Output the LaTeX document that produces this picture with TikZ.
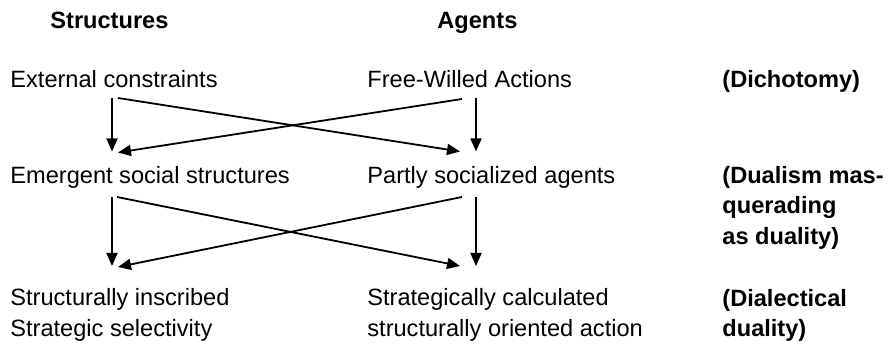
\documentclass[tikz,border=0pt]{standalone}
\usepackage{fontspec}
\setmainfont{Liberation Sans}
\usetikzlibrary{arrows.meta}

\begin{document}
\begin{tikzpicture}[
  x=0.5pt,y=-0.5pt,
  every node/.style={inner sep=0pt,anchor=base west,font=\fontsize{11.8}{15.5}\selectfont},
  head/.style={font=\fontsize{11.8}{15.5}\selectfont\bfseries},
  level/.style={align=left,font=\fontsize{11.8}{15.3}\selectfont\bfseries},
  lines/.style={align=left},
  arr/.style={line width=0.9pt,-{Triangle[length=6.5pt,width=5.5pt]}},
]
\useasboundingbox (0,0) rectangle (888,346);

\coordinate (colL) at (112,0);
\coordinate (colR) at (476,0);

\node (structures) [head] at (50,28.5) {Structures};
\node (agents) [head] at (437,28.5) {Agents};

\node (ext) at (10,88) {External constraints};
\node (free) at (367,88) {Free-Willed Actions};
\node (dich) [level] at (722,88) {(Dichotomy)};

% multi-line nodes sit on the baseline of their last line
\node (emg) at (10,183.5) {Emergent social structures};
\node (partly) at (367,183.5) {Partly socialized agents};
\node (dual) [level] at (722,244.5) {(Dualism mas-\\querading\\as duality)};

\node (inscr) [lines] at (10,337) {Structurally inscribed\\Strategic selectivity};
\node (calc) [lines] at (367,337) {Strategically calculated\\structurally oriented action};
\node (dial) [level] at (722,337) {(Dialectical\\duality)};

% first row
\draw[arr] ([yshift=-5pt]ext.base -| colL) -- ([yshift=16pt]emg.base -| colL);
\draw[arr] ([yshift=-5pt]free.base -| colR) -- ([yshift=16pt]partly.base -| colR);
\draw[arr] ([xshift=3pt,yshift=-5pt]ext.base -| colL) -- ([xshift=-8pt,yshift=16pt]partly.base -| colR);
\draw[arr] ([xshift=-7pt,yshift=-5.5pt]free.base -| colR) -- ([xshift=3pt,yshift=15.5pt]emg.base -| colL);

% second row
\draw[arr] ([yshift=-6.75pt]emg.base -| colL) -- ([yshift=35.5pt]inscr.base -| colL);
\draw[arr] ([yshift=-6.75pt]partly.base -| colR) -- ([yshift=35.5pt]calc.base -| colR);
\draw[arr] ([xshift=2.5pt,yshift=-6.75pt]emg.base -| colL) -- ([xshift=-8pt,yshift=35.5pt]calc.base -| colR);
\draw[arr] ([xshift=-7pt,yshift=-6.75pt]partly.base -| colR) -- ([xshift=3pt,yshift=35pt]inscr.base -| colL);
\end{tikzpicture}
\end{document}
